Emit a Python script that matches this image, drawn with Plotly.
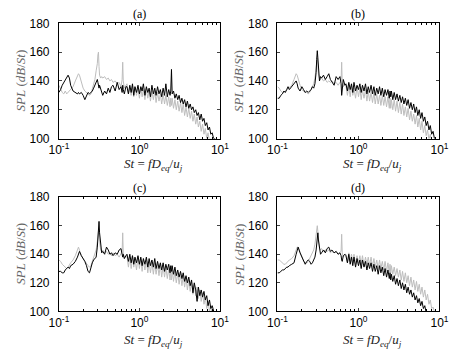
import plotly.graph_objects as go

# Strouhal number grid (shared by all spectra)
ST_LOW = [0.100, 0.105, 0.110, 0.115, 0.120, 0.125, 0.130, 0.135, 0.140, 0.150,
          0.160, 0.170, 0.175, 0.180, 0.190, 0.200, 0.210, 0.220, 0.230, 0.240,
          0.250, 0.260, 0.270, 0.280, 0.290, 0.300, 0.305, 0.310, 0.315, 0.320,
          0.330, 0.340, 0.350, 0.370, 0.390, 0.410, 0.430, 0.450, 0.470, 0.500,
          0.530, 0.560, 0.590, 0.610, 0.620, 0.630, 0.650, 0.680]
ST_HIGH = [0.70, 0.73, 0.76, 0.79, 0.82, 0.85, 0.88, 0.92, 0.96, 1.00,
           1.04, 1.08, 1.12, 1.17, 1.22, 1.27, 1.32, 1.37, 1.43, 1.49,
           1.55, 1.61, 1.68, 1.75, 1.82, 1.89, 1.97, 2.05, 2.13, 2.22,
           2.31, 2.40, 2.45, 2.50, 2.55, 2.65, 2.76, 2.87, 2.99, 3.11,
           3.24, 3.37, 3.50, 3.64, 3.79, 3.94, 4.10, 4.27, 4.44, 4.62,
           4.80, 5.00, 5.20, 5.40, 5.62, 5.85, 6.08, 6.33, 6.58, 6.85,
           7.12, 7.41, 7.70, 8.01, 8.33, 8.66, 9.00]
ST = ST_LOW + ST_HIGH

# Panel (a)
A_BLACK = ([132, 134, 137, 139, 141, 143, 144, 142, 137, 133, 132, 131, 132, 131, 132, 130,
            127, 130, 132, 131, 132, 133, 135, 137, 140, 141, 139, 136, 135, 137, 134, 131,
            130, 133, 131, 135, 132, 136, 137, 133, 139, 134, 136, 132, 137, 134, 131, 136]
           + [136, 131, 137, 132, 138, 130, 136, 132, 137, 131, 136, 133, 138, 130, 136, 132,
              135, 129, 137, 131, 135, 130, 136, 131, 134, 129, 135, 130, 138, 129, 134, 130,
              133, 148, 131, 133, 128, 131, 127, 130, 125, 128, 124, 127, 122, 126, 121, 124,
              120, 122, 118, 120, 116, 118, 113, 117, 112, 114, 109, 111, 106, 108, 103, 104,
              100, 100, 96])
A_GRAY = ([137, 134, 132, 131, 133, 131, 132, 133, 134, 136, 140, 144, 145, 144, 139, 135,
           133, 132, 131, 130, 131, 134, 137, 141, 147, 152, 158, 160, 150, 144, 142, 143,
           142, 143, 141, 142, 140, 141, 139, 140, 138, 139, 136, 141, 153, 140, 135, 137]
          + [138, 131, 136, 130, 137, 129, 136, 130, 135, 128, 136, 129, 134, 127, 135, 128,
             134, 126, 133, 127, 133, 125, 132, 126, 131, 124, 131, 124, 130, 123, 129, 122,
             128, 123, 128, 121, 127, 120, 126, 119, 125, 118, 124, 116, 122, 115, 121, 114,
             119, 112, 117, 110, 115, 108, 112, 105, 110, 103, 107, 100, 104, 98, 100, 96,
             95, 94, 93])

# Panel (b)
B_BLACK = ([128, 128, 130, 131, 133, 132, 134, 136, 134, 136, 138, 140, 138, 135, 133, 136,
            134, 132, 133, 132, 133, 134, 136, 135, 138, 146, 155, 161, 156, 146, 140, 143,
            142, 144, 141, 143, 145, 141, 139, 137, 143, 141, 143, 138, 130, 136, 141, 137]
           + [138, 133, 139, 134, 138, 132, 139, 133, 137, 134, 138, 132, 137, 133, 138, 131,
              136, 132, 137, 131, 136, 130, 135, 131, 136, 130, 135, 129, 134, 130, 134, 128,
              133, 129, 133, 127, 132, 127, 131, 126, 130, 125, 129, 124, 128, 123, 127, 121,
              125, 120, 124, 118, 122, 116, 120, 114, 118, 112, 115, 109, 112, 106, 109, 103,
              105, 100, 100])
B_GRAY = ([136, 135, 133, 132, 132, 133, 134, 135, 136, 137, 141, 145, 144, 141, 137, 134,
           133, 132, 132, 131, 132, 134, 136, 138, 142, 149, 154, 156, 151, 145, 142, 141,
           142, 140, 141, 139, 140, 139, 140, 138, 139, 137, 139, 140, 153, 139, 136, 138]
          + [137, 130, 136, 129, 137, 130, 135, 128, 136, 129, 135, 127, 134, 128, 134, 126,
             133, 126, 132, 125, 132, 124, 131, 124, 130, 123, 130, 123, 129, 122, 129, 121,
             128, 121, 127, 120, 127, 119, 126, 118, 125, 117, 124, 116, 122, 115, 121, 113,
             119, 112, 117, 110, 116, 108, 114, 106, 112, 104, 109, 102, 106, 99, 103, 97,
             99, 95, 94])

# Panel (c)
C_BLACK = ([128, 128, 127, 127, 129, 130, 131, 130, 132, 133, 135, 138, 140, 142, 139, 137,
            135, 132, 128, 127, 131, 134, 136, 137, 138, 145, 153, 160, 163, 155, 146, 141,
            142, 140, 145, 143, 140, 141, 139, 141, 140, 143, 144, 141, 138, 140, 137, 139]
           + [140, 135, 140, 134, 139, 133, 138, 134, 139, 133, 138, 132, 137, 133, 138, 131,
              137, 132, 136, 131, 137, 130, 135, 130, 134, 129, 134, 128, 133, 129, 133, 127,
              132, 128, 132, 126, 131, 125, 129, 124, 128, 123, 127, 121, 125, 120, 124, 118,
              122, 113, 120, 115, 107, 117, 111, 115, 110, 114, 108, 111, 104, 108, 102, 104,
              99, 97, 95])
C_GRAY = ([136, 135, 133, 132, 131, 130, 131, 133, 134, 136, 139, 143, 145, 143, 139, 137,
           135, 133, 132, 131, 132, 135, 138, 141, 143, 149, 153, 156, 152, 147, 143, 142,
           143, 141, 142, 140, 141, 139, 141, 139, 140, 138, 140, 142, 155, 141, 137, 139]
          + [139, 131, 138, 130, 139, 131, 137, 129, 138, 130, 137, 128, 136, 129, 136, 127,
             135, 127, 134, 126, 134, 126, 133, 125, 133, 124, 132, 124, 131, 123, 130, 122,
             129, 122, 129, 121, 128, 120, 127, 119, 126, 118, 125, 117, 124, 115, 122, 114,
             121, 112, 119, 111, 117, 109, 115, 107, 113, 105, 110, 102, 107, 100, 104, 97,
             100, 95, 94])

# Panel (d)
D_BLACK = ([127, 127, 128, 129, 129, 130, 131, 131, 132, 133, 134, 140, 144, 145, 141, 138,
            135, 133, 135, 136, 135, 133, 134, 136, 138, 143, 149, 153, 155, 150, 143, 140,
            141, 143, 141, 144, 145, 142, 143, 141, 142, 140, 141, 139, 136, 135, 139, 140]
           + [139, 134, 140, 133, 138, 132, 138, 131, 137, 132, 136, 130, 136, 131, 135, 129,
              134, 130, 134, 128, 133, 128, 132, 126, 132, 127, 131, 125, 130, 124, 129, 123,
              127, 122, 126, 121, 125, 119, 123, 118, 122, 116, 120, 115, 119, 113, 117, 112,
              115, 110, 113, 108, 111, 106, 109, 104, 107, 102, 104, 99, 100, 97, 96, 95,
              94, 93, 92])
D_GRAY = ([136, 136, 135, 134, 133, 133, 134, 135, 136, 137, 139, 143, 145, 145, 141, 137,
           135, 134, 134, 135, 137, 139, 141, 143, 147, 154, 158, 160, 156, 149, 144, 143,
           144, 142, 143, 142, 143, 141, 142, 141, 142, 140, 141, 142, 154, 141, 138, 140]
          + [140, 134, 141, 135, 140, 134, 140, 133, 139, 134, 139, 133, 139, 132, 138, 133,
             138, 132, 138, 131, 137, 131, 136, 130, 136, 130, 135, 129, 135, 128, 134, 127,
             133, 127, 132, 126, 131, 125, 130, 124, 129, 122, 128, 121, 127, 120, 125, 118,
             124, 117, 122, 115, 121, 114, 119, 112, 117, 110, 115, 108, 112, 105, 108, 102,
             103, 98, 96])

PANEL_LABELS = ["(a)", "(b)", "(c)", "(d)"]
SERIES = [(A_GRAY, A_BLACK), (B_GRAY, B_BLACK), (C_GRAY, C_BLACK), (D_GRAY, D_BLACK)]
Y_TICKS = [100, 120, 140, 160, 180]
X_TICKS = [0.1, 1, 10]
X_TICKTEXT = ["10<sup>-1</sup>", "10<sup>0</sup>", "10<sup>1</sup>"]
X_MINOR = [0.2, 0.3, 0.4, 0.5, 0.6, 0.7, 0.8, 0.9, 2, 3, 4, 5, 6, 7, 8, 9]

for g, b in SERIES:
    assert len(g) == len(ST) and len(b) == len(ST), (len(g), len(b), len(ST))

W, H = 460, 352
# plot boxes in pixels: (left, right, top, bottom)
boxes = [(51, 219, 17, 137), (279, 448, 17, 137), (51, 219, 198, 317), (279, 448, 198, 317)]
xtitle_y = [164, 164, 347, 347]

fig = go.Figure()
annotations = []
serif = "Liberation Serif, DejaVu Serif, serif"
sans = "Liberation Sans, Arial, sans-serif"

for i, ((l, r, t, btm), (g, b)) in enumerate(zip(boxes, SERIES)):
    n = i + 1
    xa = "x" if n == 1 else f"x{n}"
    ya = "y" if n == 1 else f"y{n}"
    fig.add_trace(go.Scatter(x=ST, y=g, mode="lines", line=dict(color="#bdbdbd", width=1),
                             xaxis=xa, yaxis=ya, showlegend=False, hoverinfo="skip"))
    fig.add_trace(go.Scatter(x=ST, y=b, mode="lines", line=dict(color="#000000", width=1),
                             xaxis=xa, yaxis=ya, showlegend=False, hoverinfo="skip"))
    xkey = "xaxis" if n == 1 else f"xaxis{n}"
    ykey = "yaxis" if n == 1 else f"yaxis{n}"
    fig.update_layout(**{
        xkey: dict(type="log", domain=[l / W, r / W], range=[-1, 1], anchor=ya,
                   tickmode="array", tickvals=X_TICKS, ticktext=X_TICKTEXT,
                   ticks="inside", ticklen=3, showline=True, linecolor="black", linewidth=1,
                   mirror="ticks", showgrid=False, zeroline=False, ticklabelstandoff=0,
                   tickfont=dict(family=sans, size=12, color="black"),
                   minor=dict(ticks="inside", ticklen=2, tickvals=X_MINOR, showgrid=False,
                              tickcolor="black")),
        ykey: dict(domain=[(H - btm) / H, (H - t) / H], range=[100, 180], anchor=xa,
                   tickmode="array", tickvals=Y_TICKS,
                   ticks="inside", ticklen=3, showline=True, linecolor="black", linewidth=1,
                   mirror="ticks", showgrid=False, zeroline=False, ticklabelstandoff=6,
                   tickfont=dict(family=sans, size=12, color="black")),
    })
    cx = (l + r) / 2
    annotations.append(dict(text=PANEL_LABELS[i], x=cx / W, y=(H - (t - 10)) / H,
                            xref="paper", yref="paper", showarrow=False,
                            xanchor="center", yanchor="middle",
                            font=dict(family=serif, size=12, color="black")))
    annotations.append(dict(text="<i>St</i> = <i>fD</i><sub><i>eq</i></sub>/<i>u</i><sub><i>j</i></sub>",
                            x=(cx + 15) / W, y=(H - xtitle_y[i]) / H,
                            xref="paper", yref="paper", showarrow=False,
                            xanchor="center", yanchor="middle",
                            font=dict(family=serif, size=13, color="#222")))
    annotations.append(dict(text="<i>SPL</i> (<i>dB</i>/<i>St</i>)",
                            x=(l - 40) / W, y=(H - (t + btm) / 2) / H,
                            xref="paper", yref="paper", showarrow=False, textangle=-90,
                            xanchor="center", yanchor="middle",
                            font=dict(family=serif, size=13, color="#666")))

fig.update_layout(width=W, height=H, margin=dict(l=0, r=0, t=0, b=0),
                  paper_bgcolor="white", plot_bgcolor="white",
                  annotations=annotations)

fig.write_html("out.html")
